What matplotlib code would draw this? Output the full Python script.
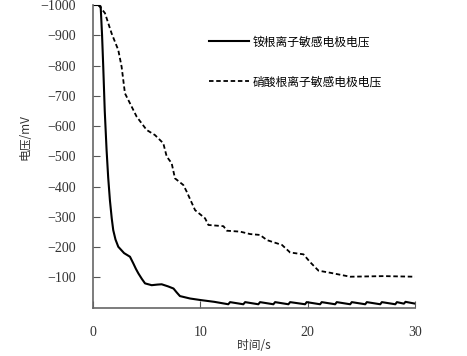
import numpy as np
import matplotlib.pyplot as plt

plt.rcParams['font.family'] = ['Noto Sans CJK SC', 'DejaVu Sans']

# 铵根离子敏感电极电压 (solid)
t_nh4 = [0, 0.5, 0.72, 0.85, 0.96, 1.1, 1.27, 1.42, 1.58, 1.75, 1.89, 2.1, 2.36, 2.9,
         3.45, 3.76, 4.0, 4.23, 4.55, 4.85, 5.47, 6.0, 6.4, 7.0, 7.5, 7.8, 8.1, 9.04,
         10.0, 11.3, 12.6, 12.77, 14.0, 14.17, 15.4, 15.56, 16.8, 16.96, 18.2, 18.36,
         19.75, 19.9, 21.15, 21.3, 22.55, 22.7, 23.95, 24.1, 25.35, 25.5, 26.75, 26.9,
         28.15, 28.3, 28.95, 29.1, 30.0]
v_nh4 = [-1000, -1000, -995, -900, -796, -650, -521, -430, -355, -295, -256, -225, -201, -180,
         -168, -146, -128, -113, -95, -80, -74, -76, -77, -70, -63, -50, -38, -30,
         -25, -19, -11, -18, -11, -18, -11, -18, -11, -18, -11, -18,
         -11, -18, -11, -18, -11, -18, -11, -18, -11, -18, -11, -18,
         -11, -18, -13, -19, -13]

# 硝酸根离子敏感电极电压 (dashed)
t_no3 = [0.5, 0.65, 1.12, 1.74, 2.36, 2.67, 2.98, 3.45, 4.07, 5.0, 5.78, 6.55, 6.87, 7.33,
         7.64, 8.42, 8.73, 9.51, 10.44, 10.75, 12.15, 12.47, 13.7, 14.63, 15.56, 16.2,
         17.6, 18.36, 19.6, 20.2, 21.0, 22.1, 23.95, 27.06, 30.0]
v_no3 = [-1000, -994, -973, -906, -851, -796, -708, -675, -631, -587, -570, -543, -499, -477,
         -427, -405, -383, -322, -295, -273, -269, -254, -251, -243, -240, -223,
         -207, -182, -176, -151, -122, -115, -102, -104, -102]

xticks = [0, 10, 20, 30]
yticks = [-100, -200, -300, -400, -500, -600, -700, -800, -900, -1000]

fig = plt.figure(figsize=(4.67, 3.56), dpi=100)
ax = fig.add_axes([0.199, 0.136, 0.69, 0.85])

ax.plot(t_nh4, v_nh4, color='black', linewidth=1.5, label='铵根离子敏感电极电压')
ax.plot(t_no3, v_no3, color='black', linewidth=1.3, linestyle=(0, (2.5, 1.5)),
        label='硝酸根离子敏感电极电压')

ax.set_xlim(0, 30)
ax.set_ylim(0, -1000)
ax.set_xticks(xticks)
ax.set_yticks(yticks)
ax.set_xticklabels([str(x) for x in xticks], family=['Liberation Serif'], fontsize=10, color='#333333')
ax.set_yticklabels(['\u2212%d' % abs(y) for y in yticks], family=['Liberation Serif'], fontsize=10,
                   color='#333333')
ax.tick_params(direction='in', length=5, color='#555555')
ax.tick_params(axis='y', pad=12)
ax.tick_params(axis='x', pad=13)

for s in ['top', 'right']:
    ax.spines[s].set_visible(False)
for s in ['left', 'bottom']:
    ax.spines[s].set_color('#666666')
    ax.spines[s].set_linewidth(1.2)

ax.set_ylabel('电压/mV', fontsize=8.5, color='#333333')
ax.yaxis.set_label_coords(-0.19, 0.564)
ax.set_xlabel('时间/s', fontsize=8.5, color='#333333', labelpad=0)

ax.legend(loc='upper left', bbox_to_anchor=(0.36, 0.9), frameon=False, fontsize=8.5,
          handlelength=3.4, handletextpad=0.3, labelspacing=2.3, borderpad=0,
          borderaxespad=0)

plt.savefig('out.png', dpi=100)
